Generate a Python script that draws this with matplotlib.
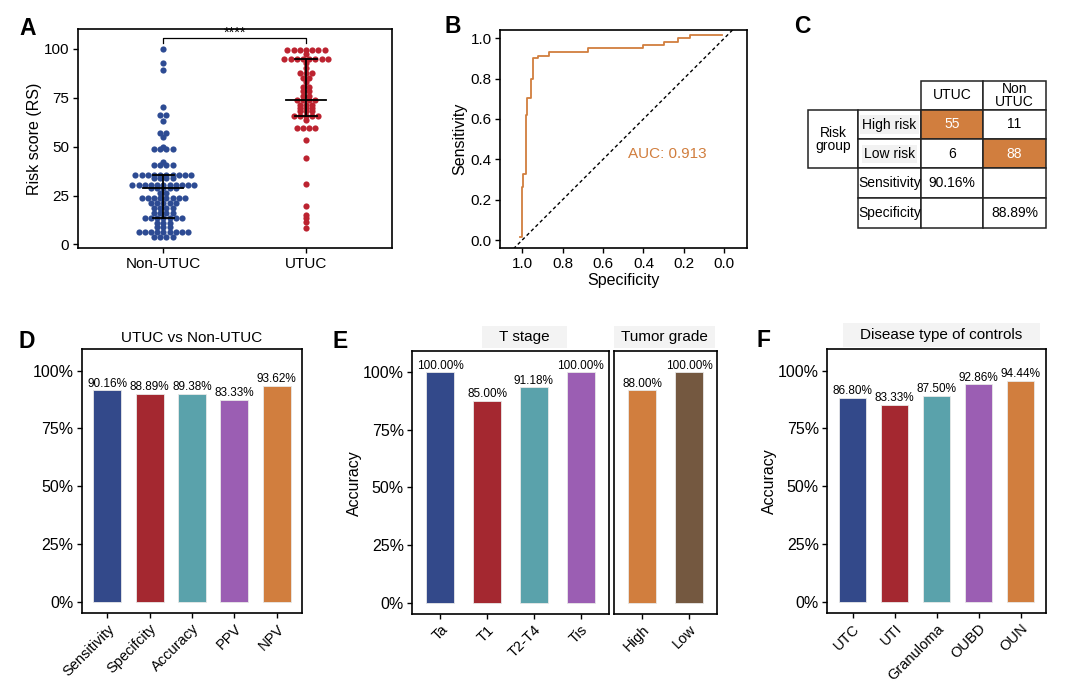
import numpy as np
import matplotlib
matplotlib.use('Agg')
import matplotlib.pyplot as plt
from matplotlib.patches import Rectangle
from matplotlib.ticker import FuncFormatter

plt.rcParams['font.family'] = ['Liberation Sans', 'DejaVu Sans']
plt.rcParams['font.size'] = 11
plt.rcParams['axes.labelsize'] = 11.5
plt.rcParams['axes.linewidth'] = 1.2
plt.rcParams['xtick.major.width'] = 1.0
plt.rcParams['ytick.major.width'] = 1.0
plt.rcParams['xtick.major.size'] = 3.5
plt.rcParams['ytick.major.size'] = 3.5
plt.rcParams['xtick.major.pad'] = 2.5
plt.rcParams['ytick.major.pad'] = 2.5

# ---- data ----
# A: risk scores
groups = ['Non-UTUC', 'UTUC']
rs_non = [100, 93, 89, 70.5, 66.3, 66.3, 63, 57, 57, 55, 50, 49, 49, 49, 49,
          42.3,
          40.6, 40.6, 40.6, 40.6,
          35.5, 35.5, 35.5, 35.5, 35.5, 35.5, 35.5, 35.5, 35.5, 35.5,
          34, 34, 34, 34,
          30.4, 30.4, 30.4, 30.4, 30.4, 30.4, 30.4, 30.4, 30.4, 30.4, 30.4,
          28.8, 28.8, 28.8, 28.8, 28.8,
          26.5, 26.5,
          23.7, 23.7, 23.7, 23.7, 23.7, 23.7, 23.7, 23.7,
          21, 21, 21, 21, 21,
          18.6, 18.6, 18.6, 18.6,
          16, 16, 16, 16,
          13.5, 13.5, 13.5, 13.5, 13.5, 13.5, 13.5,
          10.9, 10.9, 10.9,
          8.9, 8.9, 8.9,
          6.3, 6.3, 6.3, 6.3, 6.3, 6.3, 6.3, 6.3, 6.3,
          3.7, 3.7, 3.7, 3.7]
rs_utuc = [99.3, 99.3, 99.3, 99.3, 99.3, 99.3, 99.3,
           97.5,
           94.9, 94.9, 94.9, 94.9, 94.9, 94.9, 94.9, 94.9,
           92.8, 90.3,
           87.4, 87.4, 87.4,
           85.1, 85.1, 82.9, 80.5, 80.5, 78.3, 78.3, 75.7, 75.7,
           74, 74, 74, 74,
           71.5, 71.5, 71.5, 69.7, 69.7, 69.7, 68, 68, 68,
           65.8, 65.8, 65.8, 65.8, 65.8,
           63.4,
           59.5, 59.5, 59.5, 59.5,
           53.5, 44.4, 30.9, 19.7, 15, 13.3, 11.6, 8.5]

# B: ROC corner points (specificity, sensitivity)
roc_spec = [1.012, 1.003, 0.995, 0.983, 0.974, 0.955, 0.945, 0.921, 0.866, 0.673, 0.401,
            0.299, 0.228, 0.170, 0.013]
roc_sens = [0.013, 0.264, 0.327, 0.620, 0.706, 0.800, 0.901, 0.914, 0.934, 0.950, 0.967,
            0.983, 1.0, 1.017, 1.017]
auc_text = 'AUC: 0.913'

# C: confusion table
tbl_cols = ['UTUC', 'Non\nUTUC']
tbl_rows = ['High risk', 'Low risk']
tbl_counts = [['55', '11'], ['6', '88']]
tbl_sens = '90.16%'
tbl_spec = '88.89%'

# D
d_labels = ['Sensitivity', 'Specifcity', 'Accuracy', 'PPV', 'NPV']
d_heights = [91.5, 89.9, 90.0, 87.4, 93.5]
d_texts = ['90.16%', '88.89%', '89.38%', '83.33%', '93.62%']

# E
e1_labels = ['Ta', 'T1', 'T2-T4', 'Tis']
e1_heights = [100, 87.6, 93.4, 100]
e1_texts = ['100.00%', '85.00%', '91.18%', '100.00%']
e2_labels = ['High', 'Low']
e2_heights = [92.2, 100]
e2_texts = ['88.00%', '100.00%']

# F
f_labels = ['UTC', 'UTI', 'Granuloma', 'OUBD', 'OUN']
f_heights = [88.2, 85.3, 89.1, 94.0, 95.5]
f_texts = ['86.80%', '83.33%', '87.50%', '92.86%', '94.44%']

navy = '#33498A'
red = '#A42830'
teal = '#5AA2AB'
purple = '#9B5EB3'
orange = '#D17E3E'
brown = '#745840'
dot_blue = '#2D4B93'
dot_red = '#BC2330'

W, H = 1074, 684
fig = plt.figure(figsize=(W / 100, H / 100), dpi=100)


def px_axes(x0, y0, x1, y1, **kw):
    return fig.add_axes([x0 / W, 1 - y1 / H, (x1 - x0) / W, (y1 - y0) / H], **kw)


def letter(x, y, s):
    fig.text(x / W, 1 - y / H, s, fontsize=16.5, fontweight='bold', va='top', ha='left')


pct = FuncFormatter(lambda v, p: '%d%%' % v)


def center_swarm(vals, step):
    # beeswarm "center" layout: equal values side by side, centred on the group
    vals = np.asarray(vals, dtype=float)
    offs = np.zeros(len(vals))
    for u in np.unique(vals):
        idx = np.where(vals == u)[0]
        offs[idx] = (np.arange(len(idx)) - (len(idx) - 1) / 2) * step
    return offs


# ---- A ----
axA = px_axes(77.7, 29.3, 391.7, 248.3)
for i, (vals, col) in enumerate(zip([rs_non, rs_utuc], [dot_blue, dot_red])):
    axA.scatter(i + center_swarm(vals, 0.0435), vals, s=20, color=col, linewidths=0,
                zorder=3)
    q1, med, q3 = np.percentile(vals, [25, 50, 75])
    axA.plot([i - 0.14, i + 0.14], [med, med], color='k', lw=1.3, zorder=5)
    axA.plot([i, i], [q1, q3], color='k', lw=1.3, zorder=5)
    axA.plot([i - 0.075, i + 0.075], [q1, q1], color='k', lw=1.3, zorder=5)
    axA.plot([i - 0.075, i + 0.075], [q3, q3], color='k', lw=1.3, zorder=5)
axA.plot([0, 0, 1, 1], [102.9, 105.8, 105.8, 102.9], color='k', lw=0.9)
axA.text(0.5, 104.6, '****', ha='center', va='bottom', fontsize=10.5)
axA.set_xlim(-0.6, 1.6)
axA.set_ylim(-2, 110)
axA.set_xticks([0, 1])
axA.set_xticklabels(groups)
axA.set_yticks([0, 25, 50, 75, 100])
axA.set_ylabel('Risk score (RS)', labelpad=1)
letter(19, 17, 'A')

# ---- B ----
axB = px_axes(500, 30, 747.3, 248.3)
axB.plot(roc_spec, roc_sens, drawstyle='steps-post', color=orange, lw=1.3)
axB.axline((1, 0), (0, 1), color='k', lw=1.0, ls=(0, (2.5, 2)))
axB.set_xlim(1.11, -0.114)
axB.set_ylim(-0.041, 1.041)
axB.set_xticks([1.0, 0.8, 0.6, 0.4, 0.2, 0.0])
axB.set_yticks([0.0, 0.2, 0.4, 0.6, 0.8, 1.0])
axB.xaxis.set_major_formatter(FuncFormatter(lambda v, p: '%.1f' % abs(v)))
axB.yaxis.set_major_formatter(FuncFormatter(lambda v, p: '%.1f' % abs(v)))
axB.text(0.28, 0.426, auc_text, color=orange, fontsize=11, ha='center', va='center')
axB.set_xlabel('Specificity', labelpad=2)
axB.set_ylabel('Sensitivity', labelpad=2)
letter(445, 15, 'B')

# ---- C ----
axC = fig.add_axes([0, 0, 1, 1], facecolor='none')
axC.set_xlim(0, W)
axC.set_ylim(H, 0)
axC.axis('off')
col_edges = [807.7, 858.3, 920.7, 983.3, 1045.7]
row_edges = [80.7, 110, 139, 168.3, 197.7, 227.7]


def cell(r0, r1, c0, c1, text='', fill='white', tcolor='k', bg=None):
    x0, x1 = col_edges[c0], col_edges[c1]
    y0, y1 = row_edges[r0], row_edges[r1]
    axC.add_patch(Rectangle((x0, y0), x1 - x0, y1 - y0, facecolor=fill,
                            edgecolor='#222222', lw=1.1))
    kw = {}
    if bg:
        kw['bbox'] = dict(facecolor=bg, edgecolor='none', pad=1.5)
    axC.text((x0 + x1) / 2, (y0 + y1) / 2, text, ha='center', va='center',
             color=tcolor, fontsize=10, linespacing=0.9, **kw)


for j, name in enumerate(tbl_cols):
    cell(0, 1, 2 + j, 3 + j, name)
cell(1, 3, 0, 1, 'Risk\ngroup')
for i, name in enumerate(tbl_rows):
    cell(1 + i, 2 + i, 1, 2, name, bg='#F2F2F2')
    for j in range(2):
        hit = (i == j)
        cell(1 + i, 2 + i, 2 + j, 3 + j, tbl_counts[i][j],
             fill=orange if hit else 'white', tcolor='white' if hit else 'k')
cell(3, 4, 1, 2, 'Sensitivity')
cell(3, 4, 2, 3, tbl_sens)
cell(3, 4, 3, 4, '')
cell(4, 5, 1, 2, 'Specificity')
cell(4, 5, 2, 3, '')
cell(4, 5, 3, 4, tbl_spec)
letter(794, 15, 'C')


# ---- bar panels ----
def bar_panel(ax, labels, heights, texts, colors, width):
    x = np.arange(len(labels))
    ax.bar(x, heights, width, color=colors, edgecolor='#e8e8e8', linewidth=0.6)
    for xi, h, t in zip(x, heights, texts):
        ax.text(xi, h + 0.3, t, ha='center', va='bottom', fontsize=8.5)
    ax.set_xticks(x)
    ax.set_xticklabels(labels, rotation=45, ha='right', rotation_mode='anchor',
                       fontsize=10.5)
    ax.set_xlim(-0.6, len(labels) - 0.4)
    ax.set_ylim(-5, 109.2)
    ax.set_yticks([0, 25, 50, 75, 100])
    ax.yaxis.set_major_formatter(pct)
    ax.tick_params(axis='y', labelsize=11.5)


def strip(x0, y0, x1, y1, text):
    s = px_axes(x0, y0, x1, y1, facecolor='#F3F3F3')
    s.set_xticks([])
    s.set_yticks([])
    for sp in s.spines.values():
        sp.set_visible(False)
    s.text(0.5, 0.5, text, ha='center', va='center', fontsize=11, transform=s.transAxes)


axD = px_axes(81.7, 349.3, 302.3, 613.3)
bar_panel(axD, d_labels, d_heights, d_texts, [navy, red, teal, purple, orange], 0.66)
axD.set_title('UTUC vs Non-UTUC', fontsize=11, pad=5)
letter(19, 330, 'D')

axE1 = px_axes(412.3, 351, 608.7, 614.3)
bar_panel(axE1, e1_labels, e1_heights, e1_texts, [navy, red, teal, purple], 0.6)
axE1.set_ylabel('Accuracy', labelpad=1)
axE2 = px_axes(614, 351, 717.3, 614.3)
bar_panel(axE2, e2_labels, e2_heights, e2_texts, [orange, brown], 0.6)
axE2.set_yticks([])
strip(482, 326, 567, 348, 'T stage')
strip(614, 326, 715, 348, 'Tumor grade')
letter(333, 330, 'E')

axF = px_axes(827.3, 349.3, 1045.7, 613.3)
bar_panel(axF, f_labels, f_heights, f_texts, [navy, red, teal, purple, orange], 0.66)
axF.set_ylabel('Accuracy', labelpad=1)
strip(843, 323, 1040, 347, 'Disease type of controls')
letter(756, 329, 'F')

fig.savefig('out.png', dpi=100)
